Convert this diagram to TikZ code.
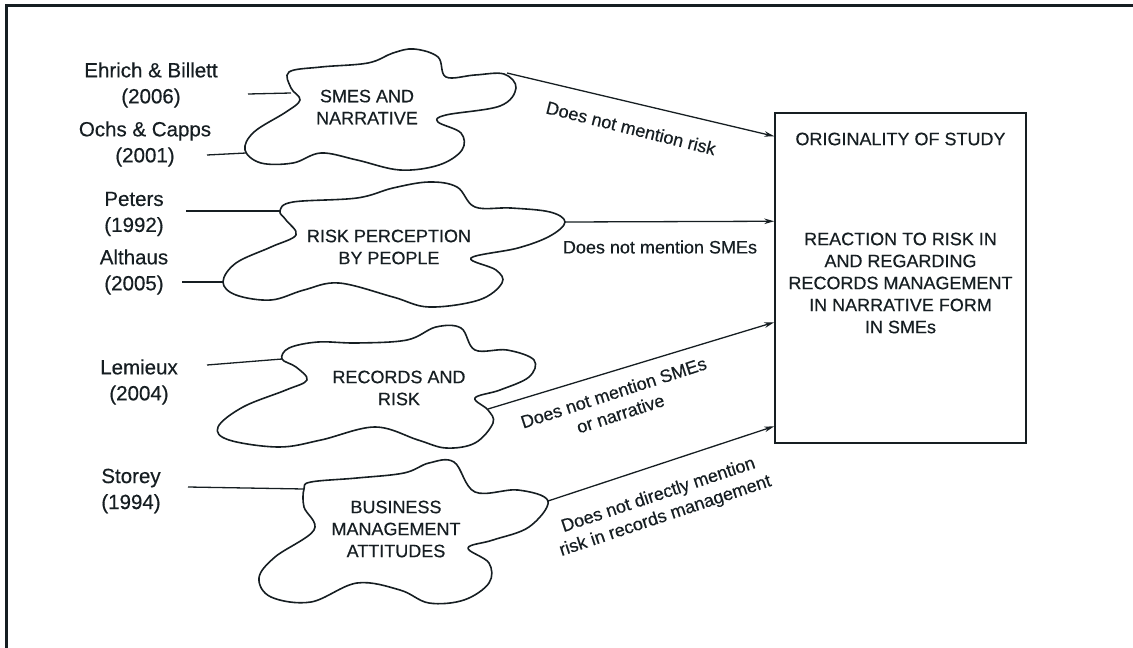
\documentclass[tikz,border=0pt]{standalone}
\usepackage{fontspec}
\setmainfont{Liberation Sans}[FakeBold=0.45]
\usetikzlibrary{arrows.meta,calc}
\definecolor{ink}{RGB}{22,30,34}
\begin{document}
\begin{tikzpicture}[x=1pt,y=-1pt,
  blob/.style={draw=ink, line width=1.6pt, line join=round},
  cloudtext/.style={font=\fontsize{18}{22}\selectfont, align=center, inner sep=0pt, text=ink},
  author/.style={font=\fontsize{20.5}{26}\selectfont, align=center, inner sep=0pt, text=ink},
  edgetext/.style={font=\fontsize{18}{22}\selectfont, align=center, inner sep=0pt, text=ink},
  link/.style={draw=ink, line width=1.3pt},
  flow/.style={link, -{Stealth[length=10pt,width=5.5pt]}},
]
\useasboundingbox (0,0) rectangle (1133,648);

% outer frame (top and left rules)
\draw[ink, line width=2.6pt] (6.5,648) -- (6.5,5.5) -- (1133,5.5);

% literature sources
\node[author] (ehr) at (151,85) {Ehrich \& Billett\\(2006)};
\node[author] (ochs) at (145,144) {Ochs \& Capps\\(2001)};
\node[author] (pet) at (134,214) {Peters\\(1992)};
\node[author] (alt) at (134,272) {Althaus\\(2005)};
\node[author] (lem) at (139,382) {Lemieux\\(2004)};
\node[author] (sto) at (131,491) {Storey\\(1994)};

% cloud 1: SMEs and narrative
\draw[blob] plot[smooth cycle, tension=0.6] coordinates {
  (289,72) (321,67) (368,63) (393,53) (414,49) (438,57) (446,77)
  (475,75) (504,74) (516,88) (500,106) (446,115) (438,122)
  (461,133) (462,150) (439,165) (400,170) (357,160) (321,153)
  (293,163) (261,163) (245,150) (254,132) (286,112) (300,100) (291,88)};
\node[cloudtext] (smes) at (367,107) {SMES AND\\NARRATIVE};

% cloud 2: risk perception
\draw[blob] plot[smooth cycle, tension=0.6] coordinates {
  (293,202) (357,198) (393,188) (429,182) (457,187) (475,207)
  (511,208) (550,212) (565,222) (550,236) (518,248) (471,258)
  (496,270) (502,283) (479,300) (429,307) (393,297) (339,283)
  (304,290) (271,300) (236,295) (223,282) (236,263) (271,247)
  (296,235) (286,220) (280,211)};
\node[cloudtext] (risk) at (389,247) {RISK PERCEPTION\\BY PEOPLE};

% cloud 3: records and risk
\draw[blob] plot[smooth cycle, tension=0.6] coordinates {
  (282,359) (289,348) (318,342) (357,343) (407,340) (436,327)
  (461,328) (475,350) (507,350) (534,360) (529,377) (500,390)
  (475,398) (488,410) (493,423) (475,443) (446,448) (418,440)
  (375,427) (321,440) (279,447) (229,440) (218,427) (243,407)
  (286,390) (307,380) (296,367)};
\node[cloudtext] (rec) at (399,388) {RECORDS AND\\RISK};

% cloud 4: business management attitudes
\draw[blob] plot[smooth cycle, tension=0.6] coordinates {
  (304,489) (311,482) (357,478) (404,473) (429,463) (454,462)
  (475,492) (518,490) (548,501) (529,527) (493,540) (468,548)
  (489,563) (489,583) (464,600) (429,603) (400,590) (357,583)
  (311,602) (271,597) (259,578) (275,557) (314,530) (304,507)};
\node[cloudtext] (bus) at (396,529) {BUSINESS\\MANAGEMENT\\ATTITUDES};

% central box
\node[draw=ink, line width=1.5pt, minimum width=251pt, minimum height=330pt,
      inner sep=0pt] (box) at (900.5,278) {};
\node[cloudtext] (orig) at (900.5,139) {ORIGINALITY OF STUDY};
\node[cloudtext] (reac) at (900.5,283)
  {REACTION TO RISK IN\\AND REGARDING\\RECORDS MANAGEMENT\\IN NARRATIVE FORM\\IN SMEs};

% line ends
\coordinate (e0) at (248,94);  \coordinate (e1) at (291,93);
\coordinate (o0) at (207,155); \coordinate (o1) at (246,153);
\coordinate (p0) at (186,211); \coordinate (p1) at (280,211);
\coordinate (a0) at (182,282); \coordinate (a1) at (223,282);
\coordinate (m0) at (207,365); \coordinate (m1) at (282,359);
\coordinate (r0) at (188,487); \coordinate (r1) at (304,489);

\draw[link] (e0) -- (e1);
\draw[link] (o0) -- (o1);
\draw[link] (p0) -- (p1);
\draw[link] (a0) -- (a1);
\draw[link] (m0) -- (m1);
\draw[link] (r0) -- (r1);

% arrows into the box
\coordinate (s1) at (507,73);
\coordinate (s2) at (565,222);
\coordinate (s3) at (488,409);
\coordinate (s4) at (548,501);
\coordinate (t1) at ($(box.north west)+(0,24)$);
\coordinate (t2) at ($(box.north west)+(0,109)$);
\coordinate (t3) at ($(box.north west)+(0,210)$);
\coordinate (t4) at ($(box.north west)+(0,314)$);

\draw[flow] (s1) -- (t1);
\draw[flow] (s2) -- (t2);
\draw[flow] (s3) -- (t3);
\draw[flow] (s4) -- (t4);

\node[edgetext, rotate=-14] (l1) at (631,128) {Does not mention risk};
\node[edgetext] (l2) at (660,247) {Does not mention SMEs};
\node[edgetext, rotate=18] (l3) at (617,403) {Does not mention SMEs\\or narrative};
\node[edgetext, rotate=18.5] (l4) at (662,506) {Does not directly mention\\risk in records management};
\end{tikzpicture}
\end{document}
